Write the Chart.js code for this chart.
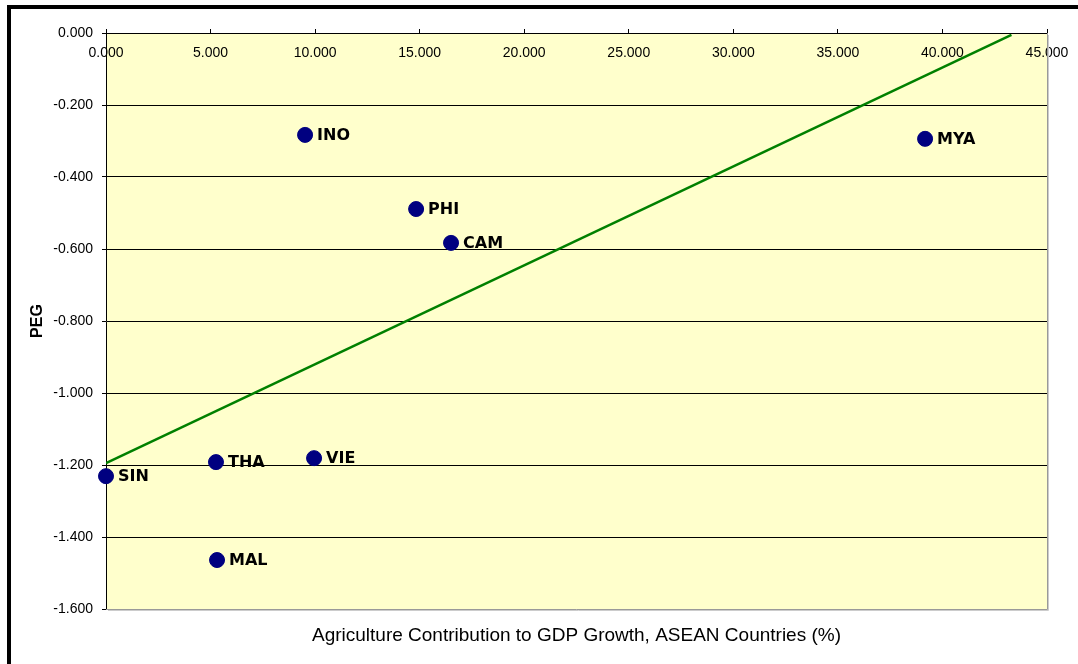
<!DOCTYPE html>
<html>
<head>
<meta charset="utf-8">
<script src="https://cdn.jsdelivr.net/npm/chart.js@4"></script>
<style>
  html, body { margin: 0; padding: 0; background: #fff; }
  #wrap { position: relative; width: 1078px; height: 664px; overflow: hidden; }
  #frame {
    position: absolute; left: 7px; top: 5px; width: 1100px; height: 655px;
    border-left: 4px solid #000; border-top: 4px solid #000; border-bottom: 2px solid #888;
    pointer-events: none;
  }
</style>
</head>
<body>
<div id="wrap">
  <canvas id="chart" width="1078" height="664"></canvas>
  <div id="frame"></div>
</div>
<script>
// Countries and their values (agri contribution %, PEG)
const countries = ['INO', 'MYA', 'PHI', 'CAM', 'THA', 'VIE', 'SIN', 'MAL'];
const agriShare = [9.52, 39.17, 14.83, 16.50, 5.26, 9.95, 0.00, 5.31];
const pegValues = [-0.283, -0.294, -0.489, -0.583, -1.192, -1.181, -1.231, -1.464];

// Linear trend line ends
const trendX = [0.0, 43.3];
const trendY = [-1.195, -0.005];

const xTitle = 'Agriculture Contribution to GDP Growth, ASEAN Countries (%)';
const yTitle = 'PEG';

const tickFont = { family: '"Liberation Sans", Arial, sans-serif', size: 14 };

// Yellow plot area + grey right/bottom edge
const plotBackground = {
  id: 'plotBackground',
  beforeDraw(chart) {
    const { ctx, chartArea: a } = chart;
    ctx.save();
    ctx.fillStyle = '#FFFFCC';
    ctx.fillRect(a.left, a.top, a.right - a.left, a.bottom - a.top);
    ctx.restore();
  },
  afterDraw(chart) {
    const { ctx, chartArea: a } = chart;
    ctx.save();
    ctx.strokeStyle = '#999';
    ctx.lineWidth = 1;
    ctx.beginPath();
    ctx.moveTo(a.right + 0.5, a.top);
    ctx.lineTo(a.right + 0.5, a.bottom + 0.5);
    ctx.lineTo(a.left, a.bottom + 0.5);
    ctx.stroke();
    ctx.strokeStyle = '#ccc';
    ctx.beginPath();
    ctx.moveTo(a.right + 1.5, a.top + 2);
    ctx.lineTo(a.right + 1.5, a.bottom + 1.5);
    ctx.lineTo(a.left + 2, a.bottom + 1.5);
    ctx.stroke();
    ctx.restore();
  }
};

// Country names next to the points
const pointLabels = {
  id: 'pointLabels',
  afterDatasetsDraw(chart) {
    const { ctx } = chart;
    const meta = chart.getDatasetMeta(1);
    ctx.save();
    ctx.fillStyle = '#000';
    ctx.font = 'bold 16px "DejaVu Sans", Verdana, sans-serif';
    ctx.textBaseline = 'middle';
    ctx.textAlign = 'left';
    meta.data.forEach((pt, i) => {
      ctx.fillText(countries[i], pt.x + 12, pt.y + 1);
    });
    ctx.restore();
  }
};

const ctx = document.getElementById('chart').getContext('2d');
new Chart(ctx, {
  type: 'scatter',
  data: {
    datasets: [
      {
        type: 'line',
        label: 'Trend',
        data: trendX.map((x, i) => ({ x: x, y: trendY[i] })),
        borderColor: '#008000',
        borderWidth: 2.5,
        pointRadius: 0,
        fill: false
      },
      {
        label: 'PEG',
        data: agriShare.map((x, i) => ({ x: x, y: pegValues[i] })),
        backgroundColor: '#000080',
        borderColor: '#000080',
        pointRadius: 7.5,
        pointHoverRadius: 7.5,
        clip: false
      }
    ]
  },
  options: {
    responsive: false,
    animation: false,
    events: [],
    layout: { padding: { left: 20, top: 13, right: 31, bottom: 0 } },
    plugins: { legend: { display: false }, tooltip: { enabled: false } },
    scales: {
      x: {
        type: 'linear',
        position: 'top',
        min: 0,
        max: 45,
        afterFit: s => { s.height = 20; s.paddingLeft = 0; s.paddingRight = 0; },
        ticks: {
          stepSize: 5,
          autoSkip: false,
          maxRotation: 0,
          mirror: true,
          padding: 12,
          color: '#000',
          font: tickFont,
          callback: v => v.toFixed(3)
        },
        grid: { display: true, drawOnChartArea: false, drawTicks: true, tickLength: 4, color: '#000' },
        border: { display: true, color: '#000', width: 1 }
      },
      x2: {
        type: 'linear',
        position: 'bottom',
        min: 0,
        max: 45,
        afterFit: s => { s.height = 55; s.paddingLeft = 0; s.paddingRight = 0; },
        ticks: { display: false },
        grid: { display: false },
        border: { display: false },
        title: {
          display: true,
          text: xTitle,
          color: '#000',
          font: { family: '"Liberation Sans", Arial, sans-serif', size: 19 },
          padding: { top: 0, bottom: 17 }
        }
      },
      y: {
        type: 'linear',
        position: 'left',
        min: -1.6,
        max: 0,
        afterFit: s => { s.width = 86; },
        ticks: {
          stepSize: 0.2,
          padding: 9,
          color: '#000',
          font: tickFont,
          callback: v => v.toFixed(3)
        },
        grid: {
          color: c => (c.tick && Math.abs(c.tick.value + 1.6) < 1e-6) ? 'rgba(0,0,0,0)' : '#000',
          tickColor: '#000',
          tickLength: 4,
          lineWidth: 1
        },
        border: { display: true, color: '#000', width: 1 },
        title: {
          display: true,
          text: yTitle,
          color: '#000',
          font: { family: '"Liberation Sans", Arial, sans-serif', size: 16, weight: 'bold' },
          padding: { top: 8, bottom: 0 }
        }
      }
    }
  },
  plugins: [plotBackground, pointLabels]
});
</script>
</body>
</html>
